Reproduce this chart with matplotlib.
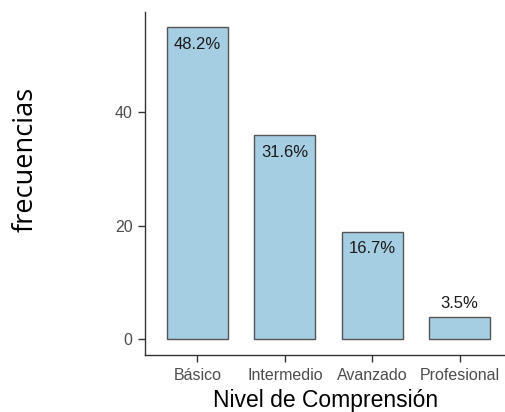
import matplotlib
matplotlib.use("Agg")
import matplotlib.pyplot as plt

# datos
niveles = ["Básico", "Intermedio", "Avanzado", "Profesional"]
frecuencias = [55, 36, 19, 4]
porcentajes = ["48.2%", "31.6%", "16.7%", "3.5%"]
yticks = [0, 20, 40]

fig = plt.figure(figsize=(5.06, 4.12), dpi=100)
ax = fig.add_axes([0.2866, 0.1383, 0.7134, 0.8326])

pos = list(range(1, len(niveles) + 1))
ax.bar(pos, frecuencias, width=0.7, color="#a6cee3", edgecolor="#555555", linewidth=1.0, zorder=2)

# etiquetas de porcentaje: dentro de la barra salvo la última
for x, v, p in zip(pos, frecuencias, porcentajes):
    if v > 10:
        ax.annotate(p, (x, v), xytext=(0, -7), textcoords="offset points",
                    ha="center", va="top", fontsize=12, color="#1a1a1a", family="Liberation Sans")
    else:
        ax.annotate(p, (x, v), xytext=(0, 4), textcoords="offset points",
                    ha="center", va="bottom", fontsize=12, color="#1a1a1a", family="Liberation Sans")

ax.set_xlim(0.4, 4.53)
ax.set_ylim(-2.75, 57.7)
ax.set_xticks(pos)
ax.set_xticklabels(niveles)
ax.set_yticks(yticks)

for s in ["top", "right"]:
    ax.spines[s].set_visible(False)
for s in ["left", "bottom"]:
    ax.spines[s].set_color("#333333")
    ax.spines[s].set_linewidth(1.0)

ax.tick_params(axis="both", length=5, width=1, color="#333333", labelcolor="#4d4d4d",
               labelsize=11.5)
ax.tick_params(axis="x", pad=4)
ax.tick_params(axis="y", pad=4)
for lbl in ax.get_xticklabels() + ax.get_yticklabels():
    lbl.set_family("Liberation Sans")

ax.set_xlabel("Nivel de Comprensión", fontsize=16.5, family="Liberation Sans", color="black", labelpad=5)
fig.text(0.05, 0.612, "frecuencias", rotation=90, ha="center", va="center",
         fontsize=19.5, family="Open Sans", color="black")

fig.savefig("out.png", dpi=100)
